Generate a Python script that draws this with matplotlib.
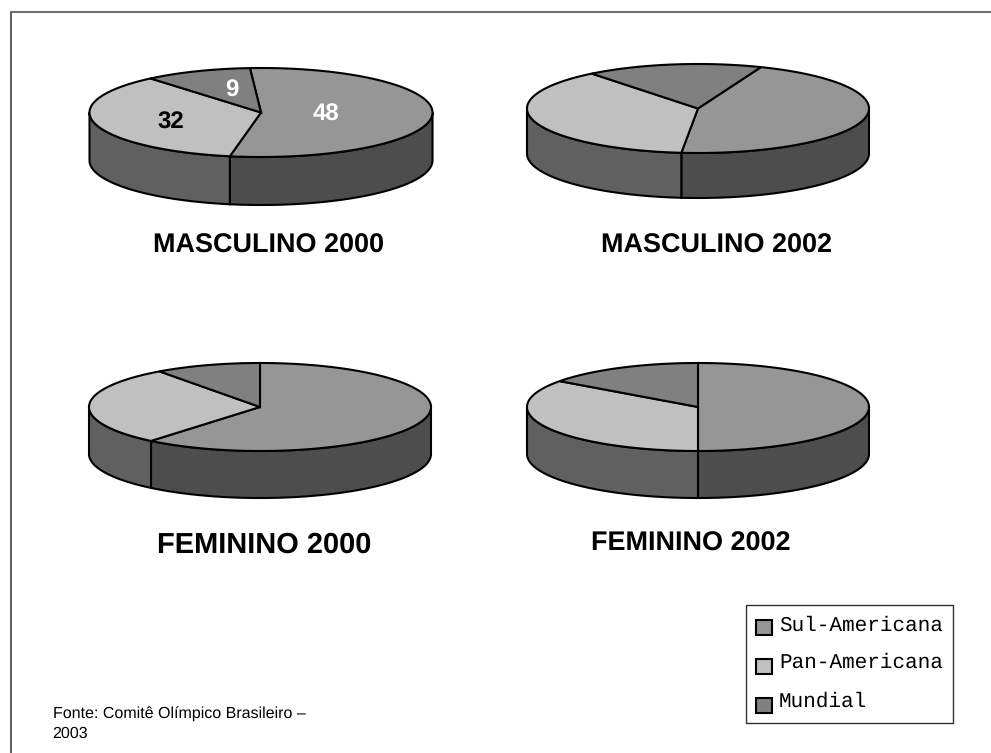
import numpy as np
import matplotlib
matplotlib.use('Agg')
import matplotlib.pyplot as plt
from matplotlib.patches import Polygon, Rectangle

plt.rcParams['font.family'] = ['Liberation Sans', 'DejaVu Sans']
plt.rcParams['text.hinting'] = 'no_hinting'
plt.rcParams['text.hinting_factor'] = 1

# dados
series = ['Sul-Americana', 'Pan-Americana', 'Mundial']
masc_2000 = [48, 32, 9]
masc_2002 = [41, 34, 15]
fem_2000 = [61, 29, 10]
fem_2002 = [50, 35, 15]
titles = ['MASCULINO 2000', 'MASCULINO 2002', 'FEMININO 2000', 'FEMININO 2002']
fonte = ['Fonte: Comitê Olímpico Brasileiro –', '2003']

top_colors = ['#969696', '#c0c0c0', '#808080']
side_colors = ['#4d4d4d', '#606060', '#404040']

W, H = 991, 753
fig = plt.figure(figsize=(W / 100, H / 100), dpi=100)
ax = fig.add_axes([0, 0, 1, 1])
ax.set_xlim(0, W)
ax.set_ylim(H, 0)
ax.axis('off')


def ell(cx, cy, rx, ry, ang):
    # angulo em graus, horario a partir do topo
    a = np.radians(ang)
    return cx + rx * np.sin(a), cy - ry * np.cos(a)


def pie3d(vals, start, cx, cy, rx, ry, depth):
    vals = np.array(vals, dtype=float)
    angs = start + np.concatenate([[0], np.cumsum(vals) / vals.sum() * 360])
    # lateral
    for i in range(len(vals)):
        # parte visivel: entre 90 e 270 graus
        a0 = max(angs[i], 90)
        a1 = min(angs[i + 1], 270)
        if a1 <= a0:
            continue
        t = np.linspace(a0, a1, 120)
        x, y = ell(cx, cy, rx, ry, t)
        pts = np.column_stack([np.r_[x, x[::-1]], np.r_[y, y[::-1] + depth]])
        ax.add_patch(Polygon(pts, closed=True, fc=side_colors[i], ec='black', lw=1.5, zorder=2))
    # topo
    for i in range(len(vals)):
        t = np.linspace(angs[i], angs[i + 1], 200)
        x, y = ell(cx, cy, rx, ry, t)
        pts = np.column_stack([np.r_[cx, x], np.r_[cy, y]])
        ax.add_patch(Polygon(pts, closed=True, fc=top_colors[i], ec='black', lw=1.5, zorder=3))


pie3d(masc_2000, -3.7, 261, 112.5, 171.5, 44.5, 48)
pie3d(masc_2002, 21.6, 698, 108.5, 171, 44.5, 45)
pie3d(fem_2000, 0, 260, 407, 171, 44, 47)
pie3d(fem_2002, 0, 698, 407, 171, 44, 47)

# rotulos
ax.text(325.5, 115, str(masc_2000[0]), color='white', fontsize=17, fontweight='bold', ha='center', va='center', zorder=4)
ax.text(171, 123, str(masc_2000[1]), color='black', fontsize=17, fontweight='bold', ha='center', va='center', zorder=4)
ax.text(232, 91, str(masc_2000[2]), color='white', fontsize=17, fontweight='bold', ha='center', va='center', zorder=4)

# titulos
ax.text(268.5, 246, titles[0], fontsize=19.6, fontweight='bold', ha='center', va='center')
ax.text(717, 246, titles[1], fontsize=19.6, fontweight='bold', ha='center', va='center')
ax.text(264.5, 545, titles[2], fontsize=20.7, fontweight='bold', ha='center', va='center')
ax.text(690.5, 544, titles[3], fontsize=19.6, fontweight='bold', ha='center', va='center')

# fonte
ax.text(53, 719, fonte[0], fontsize=11.4, va='baseline', ha='left')
ax.text(52, 738, fonte[1], fontsize=11.4, va='baseline', ha='left')

# legenda
ax.add_patch(Rectangle((746, 605), 207, 118, fc='white', ec='#303030', lw=1))
for c, ym, yb, s in zip(top_colors, [620, 659, 698], [631, 668, 707], series):
    ax.add_patch(Rectangle((756, ym), 16, 15, fc=c, ec='black', lw=1.5))
    ax.text(779, yb, s, family='Liberation Mono', fontsize=15.3, va='baseline', ha='left')

# moldura
ax.plot([11, 11], [H, 12], color='#404040', lw=1.2)
ax.plot([11, W], [12, 12], color='#707070', lw=1.5)

fig.savefig('out.png', dpi=100, facecolor='white')
